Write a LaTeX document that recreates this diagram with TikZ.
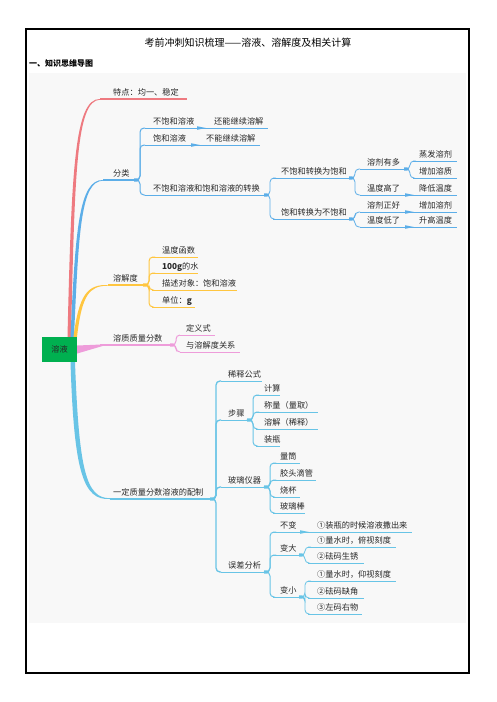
\documentclass[tikz,border=0pt]{standalone}
\usepackage{fontspec}
\newfontfamily\cjk{Noto Sans CJK SC}
\usetikzlibrary{calc}
\definecolor{cR}{RGB}{238,122,128}
\definecolor{cB}{RGB}{92,174,232}
\definecolor{cY}{RGB}{255,198,64}
\definecolor{cP}{RGB}{238,156,218}
\definecolor{cE}{RGB}{104,196,230}
\definecolor{cG}{RGB}{0,176,80}
\definecolor{bgc}{RGB}{248,248,248}
\definecolor{txt}{RGB}{40,40,40}
\tikzset{
  lbl/.style={anchor=base west, inner sep=0pt, font=\cjk\fontsize{8.2}{10}\selectfont, text=txt},
  lone/.style={line width=1.3pt},
  ltwo/.style={line width=1.0pt},
  lthree/.style={line width=0.8pt},
}
% name, xL, xR, y, text x, text, style
\newcommand\mmtopic[7]{%
  \coordinate (#1L) at (#2,#4);
  \coordinate (#1R) at (#3,#4);
  \node[lbl] (#1) at (#5,#4-3.6) {#6};
  \draw[#7] (#1L) -- (#1R);
}
% style, parent, child
\newcommand\mmlink[3]{\draw[#1, rounded corners=4pt] (#2R) -- ++(3,0) |- (#3L);}
\newcommand\mmblob[2]{\fill[#1] ($(#2R)+(-3,-1.6)$) .. controls ($(#2R)+(1,-1.8)$) and ($(#2R)+(2.2,-1)$) .. ($(#2R)+(2.2,0)$) .. controls ($(#2R)+(2.2,1)$) and ($(#2R)+(1,1.8)$) .. ($(#2R)+(-3,1.6)$) -- cycle;}
\newcommand\mmwedge[3]{\fill[#1] ($(#2R)+(0,-1.8)$) -- ($(#2R)+(9,0)$) -- ($(#2R)+(0,1.8)$) -- cycle; \draw[#1, lthree] (#2R) -- (#3L);}
\begin{document}
\begin{tikzpicture}[x=1pt,y=-1pt]
\useasboundingbox (0,0) rectangle (496,702);
\fill[white] (0,0) rectangle (496,702);
\draw[line width=1.1pt] (26,29) rectangle (469,673);
\fill[bgc] (29,73) rectangle (466,623);
\node[font=\cjk\fontsize{10}{12}\selectfont, inner sep=0pt] (title) at (248,43) {考前冲刺知识梳理——溶液、溶解度及相关计算};
\node[font=\cjk\bfseries\fontsize{8}{10}\selectfont, anchor=west, inner sep=0pt] (head) at (29,63) {一、知识思维导图};

% root
\node[fill=cG, minimum width=35pt, minimum height=25pt, inner sep=0pt, font=\cjk\fontsize{8.2}{10}\selectfont, text=txt] (root) at (59.5,349.5) {溶液};

% level 1 topics
\mmtopic{A}{100}{187}{99}{113}{特点：均一、稳定}{cR,lone}
\mmtopic{B}{103}{137}{180}{113}{分类}{cB,lone}
\mmtopic{C}{108}{146}{285}{113}{溶解度}{cY,lone}
\mmtopic{D}{100}{173}{345}{113}{溶质质量分数}{cP,lone}
\mmtopic{E}{110}{213}{499}{113}{一定质量分数溶液的配制}{cE,lone}

% tapered main branches
\fill[cR] ($(root.north)+(8,0)$) .. controls (71.5,170) and (74.5,98.4) .. (AL) -- ($(AL)+(0,0.7)$) .. controls (76.5,100.5) and (74.8,170) .. ($(root.north)+(11.5,0)$) -- cycle;
\fill[cB] ($(root.north)+(11,0)$) .. controls (75.3,230) and (79,179.3) .. (BL) -- ($(BL)+(0,0.7)$) .. controls (81,181) and (78.7,230) .. ($(root.north)+(14.5,0)$) -- cycle;
\fill[cY] ($(root.north)+(14,0)$) .. controls (79,295) and (87,284.3) .. (CL) -- ($(CL)+(0,0.7)$) .. controls (89,285.8) and (82,295) .. ($(root.north)+(17.5,0)$) -- cycle;
\fill[cP] ($(root.east)+(0,-4)$) -- ($(DL)+(4,-0.6)$) -- ($(DL)+(4,0.6)$) -- ($(root.east)+(0,4)$) -- cycle;
\fill[cE] ($(root.south)+(11,0)$) .. controls (74,472) and (83,500.6) .. (EL) -- ($(EL)+(0,-0.8)$) .. controls (86,498.4) and (79,470) .. ($(root.south)+(15.5,0)$) -- cycle;

% B children
\mmtopic{Ba}{145}{197}{128}{153}{不饱和溶液}{cB,ltwo}
\mmtopic{Bab}{206}{268}{128}{214}{还能继续溶解}{cB,lthree}
\mmtopic{Bb}{145}{191}{145}{153}{饱和溶液}{cB,ltwo}
\mmtopic{Bbb}{200}{260}{145}{206}{不能继续溶解}{cB,lthree}
\mmtopic{Bc}{145}{267}{195}{153}{不饱和溶液和饱和溶液的转换}{cB,ltwo}
\mmtopic{Bca}{273}{352}{178}{281}{不饱和转换为饱和}{cB,lthree}
\mmtopic{Bcb}{273}{352}{219}{281}{饱和转换为不饱和}{cB,lthree}
\mmtopic{Bcaa}{360}{407}{169}{367}{溶剂有多}{cB,lthree}
\mmtopic{Bcaaa}{413}{457}{161}{419}{蒸发溶剂}{cB,lthree}
\mmtopic{Bcaab}{413}{457}{178}{419}{增加溶质}{cB,lthree}
\mmtopic{Bcab}{360}{405}{195}{367}{温度高了}{cB,lthree}
\mmtopic{Bcabb}{414}{457}{195}{419}{降低温度}{cB,lthree}
\mmtopic{Bcba}{360}{405}{212}{367}{溶剂正好}{cB,lthree}
\mmtopic{Bcbab}{414}{457}{212}{419}{增加溶剂}{cB,lthree}
\mmtopic{Bcbb}{360}{405}{227}{367}{温度低了}{cB,lthree}
\mmtopic{Bcbbb}{414}{457}{227}{419}{升高温度}{cB,lthree}

\mmlink{cB,ltwo}{B}{Ba}
\mmlink{cB,ltwo}{B}{Bb}
\mmlink{cB,ltwo}{B}{Bc}
\mmwedge{cB}{Ba}{Bab}
\mmwedge{cB}{Bb}{Bbb}
\mmlink{cB,lthree}{Bc}{Bca}
\mmlink{cB,lthree}{Bc}{Bcb}
\mmlink{cB,lthree}{Bca}{Bcaa}
\mmlink{cB,lthree}{Bca}{Bcab}
\mmlink{cB,lthree}{Bcb}{Bcba}
\mmlink{cB,lthree}{Bcb}{Bcbb}
\mmlink{cB,lthree}{Bcaa}{Bcaaa}
\mmlink{cB,lthree}{Bcaa}{Bcaab}
\mmwedge{cB}{Bcab}{Bcabb}
\mmwedge{cB}{Bcba}{Bcbab}
\mmwedge{cB}{Bcbb}{Bcbbb}
\mmblob{cB}{B}
\mmblob{cB}{Bc}
\mmblob{cB}{Bca}
\mmblob{cB}{Bcb}
\mmblob{cB}{Bcaa}

% C children
\mmtopic{Ca}{152}{198}{257}{162}{温度函数}{cY,ltwo}
\mmtopic{Cb}{152}{198}{273}{162}{\textbf{100g}的水}{cY,ltwo}
\mmtopic{Cc}{152}{237}{290}{162}{描述对象：饱和溶液}{cY,ltwo}
\mmtopic{Cd}{152}{195}{307}{162}{单位：\textbf{g}}{cY,ltwo}
\mmlink{cY,ltwo}{C}{Ca}
\mmlink{cY,ltwo}{C}{Cb}
\mmlink{cY,ltwo}{C}{Cc}
\mmlink{cY,ltwo}{C}{Cd}
\mmblob{cY}{C}

% D children
\mmtopic{Da}{180}{215}{335}{186}{定义式}{cP,ltwo}
\mmtopic{Db}{180}{240}{352}{186}{与溶解度关系}{cP,ltwo}
\mmlink{cP,ltwo}{D}{Da}
\mmlink{cP,ltwo}{D}{Db}
\mmblob{cP}{D}

% E children
\mmtopic{Ea}{221}{262}{381}{228}{稀释公式}{cE,ltwo}
\mmtopic{Eb}{221}{250}{420}{228}{步骤}{cE,ltwo}
\mmtopic{Ec}{221}{267}{487}{228}{玻璃仪器}{cE,ltwo}
\mmtopic{Ed}{221}{267}{572}{228}{误差分析}{cE,ltwo}
\mmlink{cE,lone}{E}{Ea}
\mmlink{cE,lone}{E}{Eb}
\mmlink{cE,lone}{E}{Ec}
\mmlink{cE,lone}{E}{Ed}
\mmblob{cE}{E}

\mmtopic{Eba}{256}{280}{395}{264}{计算}{cE,lthree}
\mmtopic{Ebb}{256}{318}{412}{264}{称量（量取）}{cE,lthree}
\mmtopic{Ebc}{256}{318}{429}{264}{溶解（稀释）}{cE,lthree}
\mmtopic{Ebd}{256}{280}{446}{264}{装瓶}{cE,lthree}
\mmlink{cE,ltwo}{Eb}{Eba}
\mmlink{cE,ltwo}{Eb}{Ebb}
\mmlink{cE,ltwo}{Eb}{Ebc}
\mmlink{cE,ltwo}{Eb}{Ebd}
\mmblob{cE}{Eb}

\mmtopic{Eca}{273}{300}{463}{280}{量筒}{cE,lthree}
\mmtopic{Ecb}{273}{316}{480}{280}{胶头滴管}{cE,lthree}
\mmtopic{Ecc}{273}{300}{497}{280}{烧杯}{cE,lthree}
\mmtopic{Ecd}{273}{305}{513}{280}{玻璃棒}{cE,lthree}
\mmlink{cE,ltwo}{Ec}{Eca}
\mmlink{cE,ltwo}{Ec}{Ecb}
\mmlink{cE,ltwo}{Ec}{Ecc}
\mmlink{cE,ltwo}{Ec}{Ecd}
\mmblob{cE}{Ec}

\mmtopic{Eda}{273}{300}{532}{280}{不变}{cE,lthree}
\mmtopic{Edab}{309}{412}{532}{317}{①装瓶的时候溶液撒出来}{cE,lthree}
\mmtopic{Edb}{273}{302}{555}{280}{变大}{cE,lthree}
\mmtopic{Edc}{273}{302}{597}{280}{变小}{cE,lthree}
\mmlink{cE,ltwo}{Ed}{Eda}
\mmlink{cE,ltwo}{Ed}{Edb}
\mmlink{cE,ltwo}{Ed}{Edc}
\mmwedge{cE}{Eda}{Edab}
\mmblob{cE}{Ed}

\mmtopic{Edba}{308}{396}{547}{317}{①量水时，俯视刻度}{cE,lthree}
\mmtopic{Edbb}{308}{364}{563}{317}{②砝码生锈}{cE,lthree}
\mmtopic{Edca}{308}{396}{581}{317}{①量水时，仰视刻度}{cE,lthree}
\mmtopic{Edcb}{308}{364}{598}{317}{②砝码缺角}{cE,lthree}
\mmtopic{Edcc}{308}{362}{614}{317}{③左码右物}{cE,lthree}
\mmlink{cE,lthree}{Edb}{Edba}
\mmlink{cE,lthree}{Edb}{Edbb}
\mmlink{cE,lthree}{Edc}{Edca}
\mmlink{cE,lthree}{Edc}{Edcb}
\mmlink{cE,lthree}{Edc}{Edcc}
\mmblob{cE}{Edb}
\mmblob{cE}{Edc}
\end{tikzpicture}
\end{document}
